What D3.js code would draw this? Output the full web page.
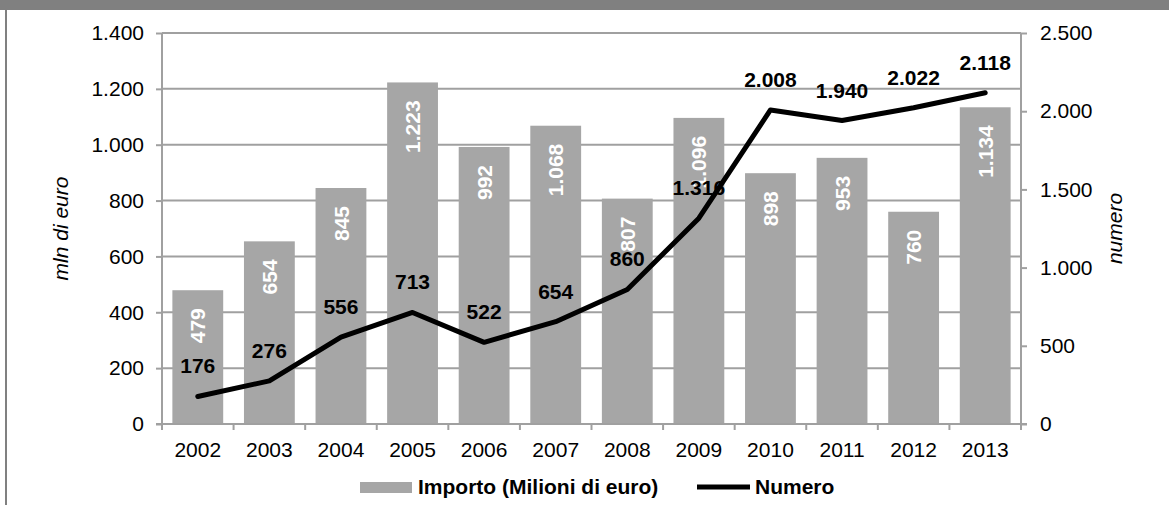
<!DOCTYPE html>
<html>
<head>
<meta charset="utf-8">
<script src="https://cdn.jsdelivr.net/npm/d3@7/dist/d3.min.js"></script>
<style>
  html, body { margin: 0; padding: 0; background: #fff; }
  svg { display: block; font-family: "Liberation Sans", Arial, sans-serif; }
</style>
</head>
<body>
<svg id="chart" width="1169" height="505"></svg>
<script>
// Anni, importi (milioni di euro) e numero di operazioni
const years = ["2002","2003","2004","2005","2006","2007","2008","2009","2010","2011","2012","2013"];
const importo = [479, 654, 845, 1223, 992, 1068, 807, 1096, 898, 953, 760, 1134];
const numero = [176, 276, 556, 713, 522, 654, 860, 1316, 2008, 1940, 2022, 2118];
const leftTicks = [0, 200, 400, 600, 800, 1000, 1200, 1400];
const rightTicks = [0, 500, 1000, 1500, 2000, 2500];
const seriesNames = ["Importo (Milioni di euro)", "Numero"];

(function () {
const fmt = v => d3.format(",")(v).replace(/,/g, ".");

const svg = d3.select("#chart");
const W = 1169, H = 505;
const pL = 162, pR = 1021, pT = 33, pB = 424;
const gridColor = "#a0a0a0";
const barColor = "#a6a6a6";
const fs = 21;

// Cornice
svg.append("rect").attr("x", 0).attr("y", 0).attr("width", W).attr("height", 10).attr("fill", "#808080");
svg.append("line").attr("x1", 6).attr("x2", 6).attr("y1", 10).attr("y2", H)
  .attr("stroke", "#808080").attr("stroke-width", 2);

const x = d3.scaleBand().domain(years).range([pL, pR]).paddingInner(0.29).paddingOuter(0.145);
const xc = d3.scaleBand().domain(years).range([pL, pR]);
const yL = d3.scaleLinear().domain([0, 1400]).range([pB, pT]);
const yR = d3.scaleLinear().domain([0, 2500]).range([pB, pT]);

// Griglia orizzontale
svg.append("g").selectAll("line").data(leftTicks.filter(t => t > 0)).join("line")
  .attr("x1", pL).attr("x2", pR)
  .attr("y1", d => yL(d)).attr("y2", d => yL(d))
  .attr("stroke", gridColor).attr("stroke-width", 2);

// Barre
svg.append("g").selectAll("rect").data(years).join("rect")
  .attr("x", d => x(d)).attr("width", x.bandwidth())
  .attr("y", (d, i) => yL(importo[i]))
  .attr("height", (d, i) => yL(0) - yL(importo[i]))
  .attr("fill", barColor);

// Asse sinistro
const axL = svg.append("g").attr("transform", `translate(${pL},0)`)
  .call(d3.axisLeft(yL).tickValues(leftTicks).tickFormat(fmt).tickSize(6).tickPadding(12));
// Asse destro
const axR = svg.append("g").attr("transform", `translate(${pR},0)`)
  .call(d3.axisRight(yR).tickValues(rightTicks).tickFormat(fmt).tickSize(6).tickPadding(13));
// Asse categorie
const axB = svg.append("g").attr("transform", `translate(0,${pB})`)
  .call(d3.axisBottom(xc).tickSize(0).tickPadding(18));
// Tacche tra le categorie
svg.append("g").selectAll("line").data(d3.range(years.length + 1)).join("line")
  .attr("x1", i => pL + i * xc.step()).attr("x2", i => pL + i * xc.step())
  .attr("y1", pB).attr("y2", pB + 6)
  .attr("stroke", gridColor).attr("stroke-width", 2);

[axL, axR, axB].forEach(g => {
  g.selectAll(".domain").attr("stroke", gridColor).attr("stroke-width", 2);
  g.selectAll(".tick line").attr("stroke", gridColor).attr("stroke-width", 2);
  g.selectAll("text").attr("font-size", fs).attr("fill", "#000")
    .attr("font-family", "'Liberation Sans', Arial, sans-serif");
});
axB.select(".domain").attr("d", `M${pL},0H${pR}`);
axL.select(".domain").attr("d", `M-6,${pB}H0V${pT}`);
axR.select(".domain").attr("d", `M0,${pT}V${pB}H6`);

// Etichette delle barre
svg.append("g").selectAll("text").data(years).join("text")
  .attr("transform", (d, i) => `translate(${x(d) + x.bandwidth() / 2},${yL(importo[i]) + 18}) rotate(-90)`)
  .attr("text-anchor", "end").attr("dy", "0.36em")
  .attr("font-size", fs).attr("font-weight", "bold").attr("fill", "#fff")
  .text((d, i) => fmt(importo[i]));

// Linea "Numero"
const line = d3.line().x((d, i) => xc(years[i]) + xc.bandwidth() / 2).y(d => yR(d));
svg.append("path").datum(numero).attr("d", line)
  .attr("fill", "none").attr("stroke", "#000").attr("stroke-width", 5)
  .attr("stroke-linejoin", "round").attr("stroke-linecap", "round");

svg.append("g").selectAll("text").data(numero).join("text")
  .attr("x", (d, i) => xc(years[i]) + xc.bandwidth() / 2)
  .attr("y", d => yR(d) - 23)
  .attr("text-anchor", "middle")
  .attr("font-size", fs).attr("font-weight", "bold").attr("fill", "#000")
  .text(d => fmt(d));

// Titoli degli assi
svg.append("text").attr("transform", `translate(68,${(pT + pB) / 2}) rotate(-90)`)
  .attr("text-anchor", "middle").attr("font-size", fs).attr("font-style", "italic").text("mln di euro");
svg.append("text").attr("transform", `translate(1122,${(pT + pB) / 2}) rotate(-90)`)
  .attr("text-anchor", "middle").attr("font-size", fs).attr("font-style", "italic").text("numero");

// Legenda
const lg = svg.append("g");
lg.append("rect").attr("x", 360).attr("y", 482).attr("width", 52).attr("height", 11).attr("fill", barColor);
lg.append("text").attr("x", 418).attr("y", 494).attr("font-size", fs).attr("font-weight", "bold").text(seriesNames[0]);
lg.append("line").attr("x1", 697).attr("x2", 750).attr("y1", 487).attr("y2", 487)
  .attr("stroke", "#000").attr("stroke-width", 5);
lg.append("text").attr("x", 755).attr("y", 494).attr("font-size", fs).attr("font-weight", "bold").text(seriesNames[1]);
})();
</script>
</body>
</html>
